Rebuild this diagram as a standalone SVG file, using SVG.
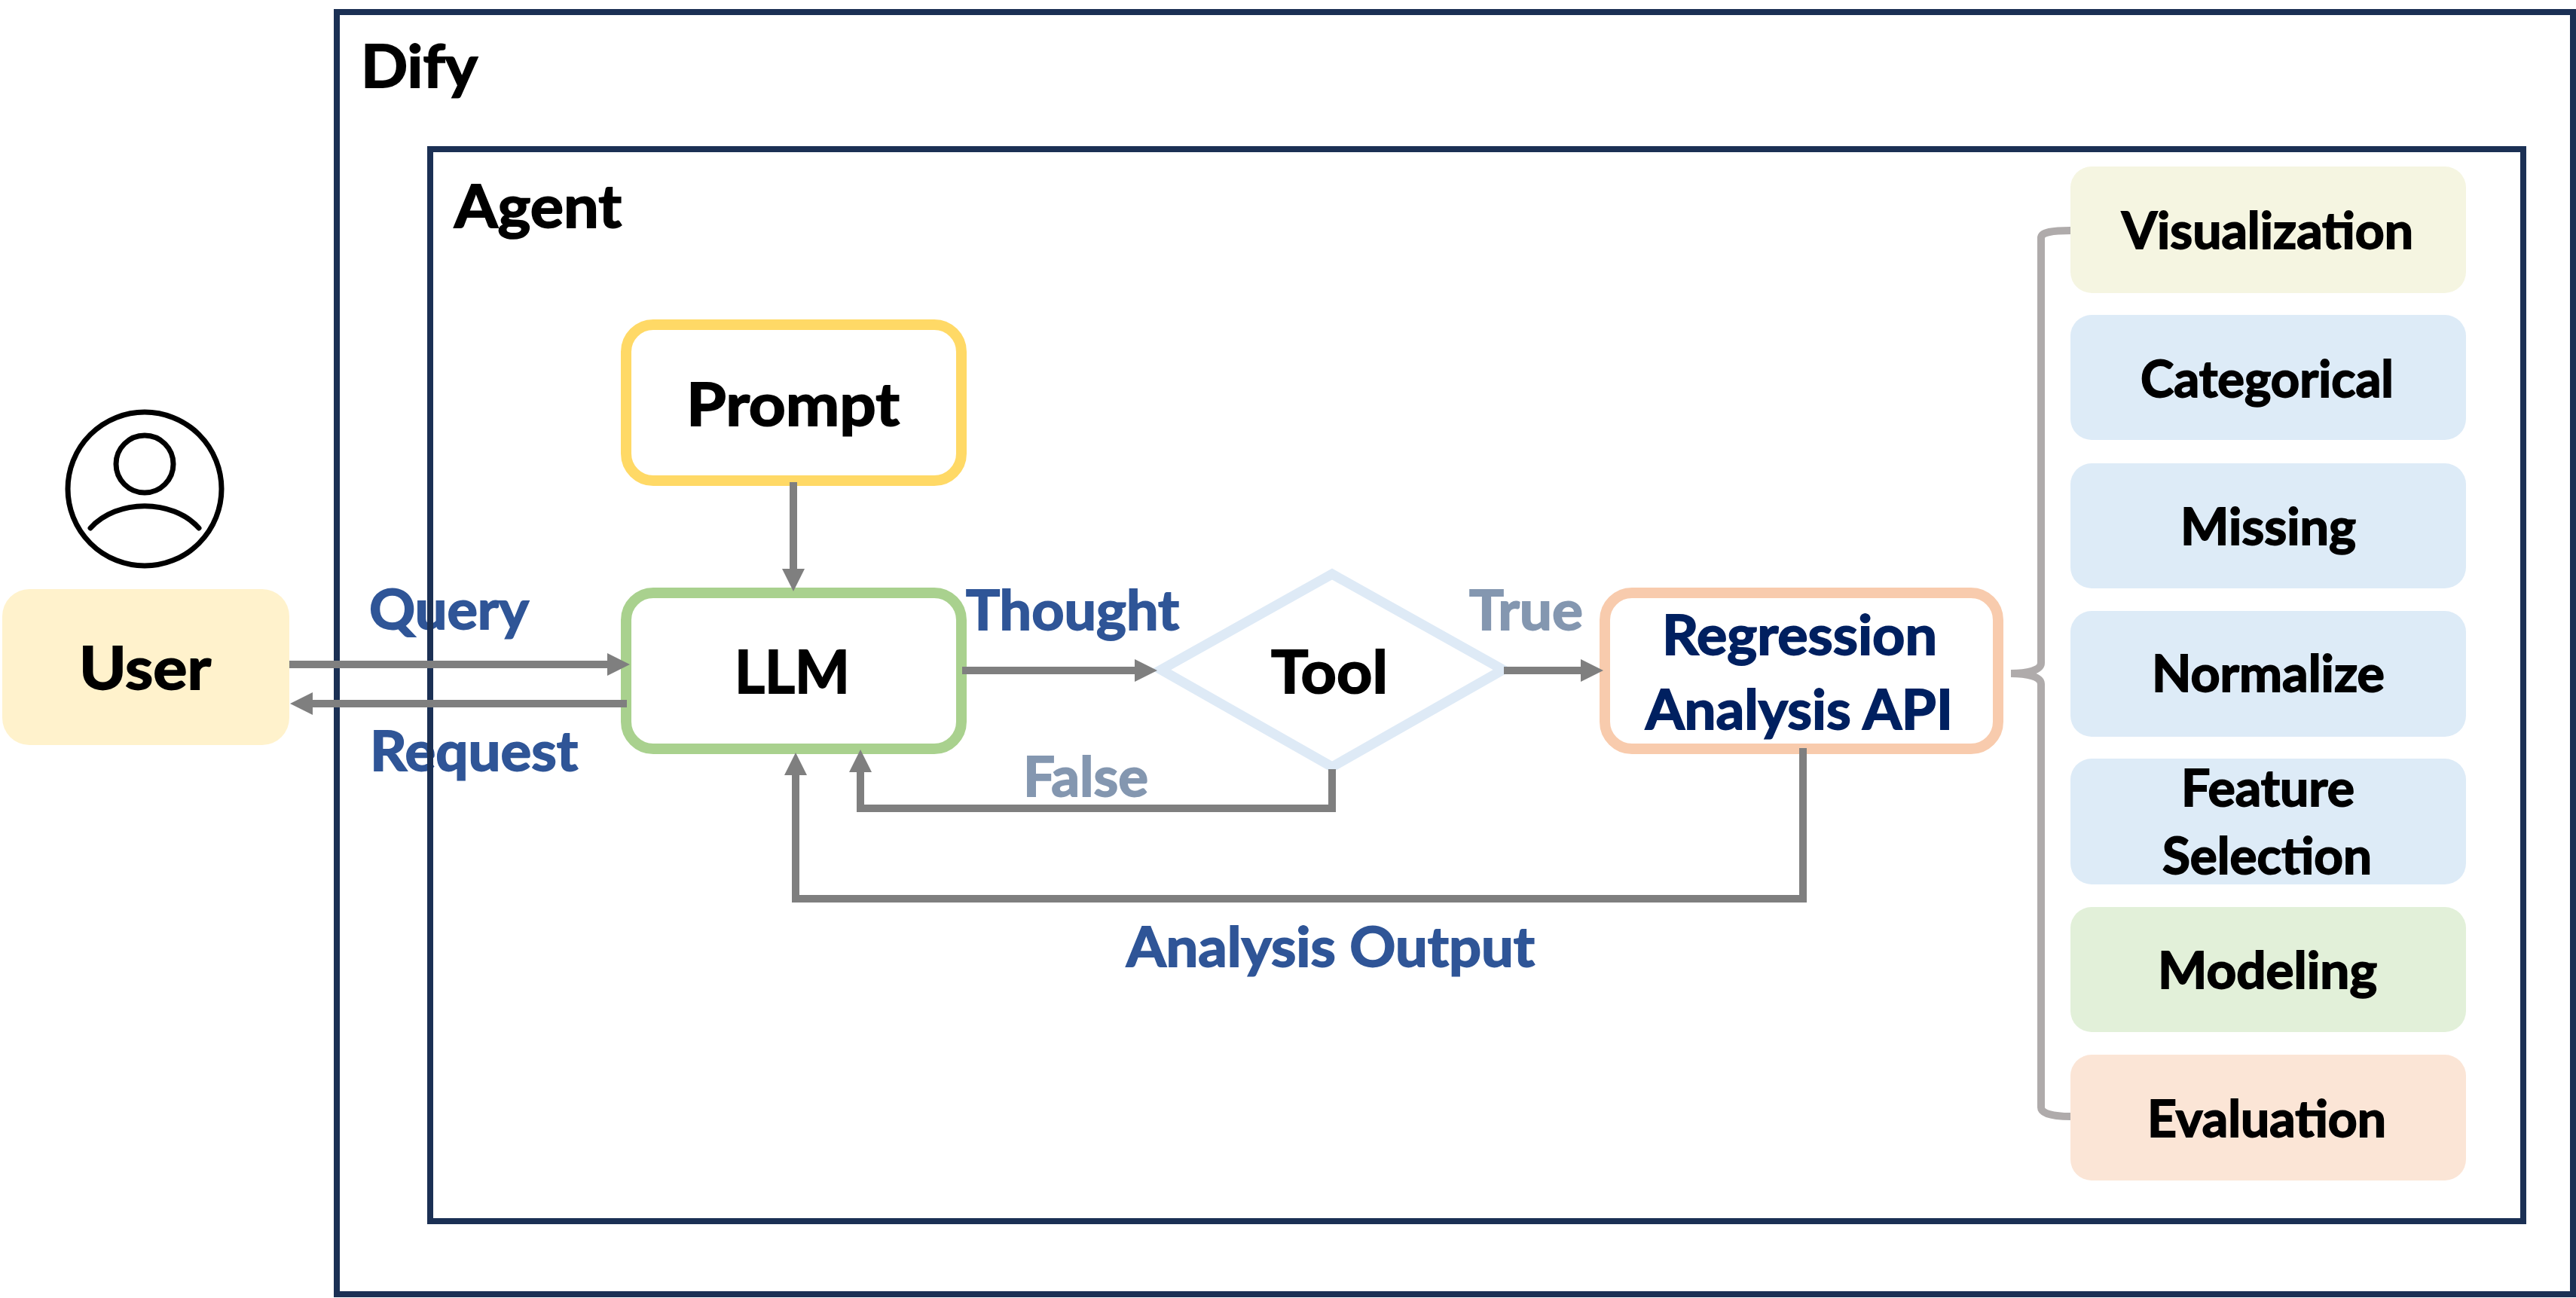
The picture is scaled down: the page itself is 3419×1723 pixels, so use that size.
<svg xmlns="http://www.w3.org/2000/svg" width="3419" height="1723" viewBox="0 0 3419 1723">
<style>
text{font-family:"Lato","Carlito","Liberation Sans",sans-serif;font-weight:700;fill:#000;stroke:#000;stroke-width:1.8px}
.t78{font-size:78px}.t72{font-size:72px}.t66{font-size:66px}
.lab{fill:#2F5597;stroke:#2F5597}.cond{fill:#8497B0;stroke:#8497B0}.api{fill:#002060;stroke:#002060}
.frame{fill:none;stroke:#1B3054;stroke-width:8}
.node{fill:#fff;stroke-width:14}
.tag{stroke:none}
.conn{fill:none;stroke:#7F7F7F;stroke-width:10}
.brace{fill:none;stroke:#AFABAB;stroke-width:10}
.icon{fill:none;stroke:#000;stroke-width:7;stroke-linecap:round}
</style>
<defs>
<marker id="head" markerUnits="userSpaceOnUse" markerWidth="32" markerHeight="32" refX="1" refY="15" orient="auto" viewBox="0 0 32 30"><path d="M0 0L30 15L0 30Z" fill="#7F7F7F"/></marker>
</defs>
<rect width="3419" height="1723" fill="#fff"/>
<g id="connector-labels">
<text class="t72 lab" x="490" y="835" textLength="212" lengthAdjust="spacingAndGlyphs">Query</text>
<text class="t72 lab" x="491" y="1023" textLength="276" lengthAdjust="spacingAndGlyphs">Request</text>
<text class="t72 lab" x="1282" y="836" textLength="283" lengthAdjust="spacingAndGlyphs">Thought</text>
<text class="t72 cond" x="1950" y="836" textLength="151" lengthAdjust="spacingAndGlyphs">True</text>
<text class="t72 cond" x="1358" y="1057" textLength="166" lengthAdjust="spacingAndGlyphs">False</text>
<text class="t72 lab" x="1495" y="1283" textLength="542" lengthAdjust="spacingAndGlyphs">Analysis Output</text>
</g>
<g id="dify">
<rect class="frame" x="447" y="16" width="2968" height="1702"/>
<text class="t78" x="479" y="116" textLength="155" lengthAdjust="spacingAndGlyphs">Dify</text>
</g>
<g id="agent">
<rect class="frame" x="571" y="198" width="2778" height="1423"/>
<text class="t78" x="603" y="302" textLength="222" lengthAdjust="spacingAndGlyphs">Agent</text>
</g>
<g id="user-icon">
<circle class="icon" cx="192" cy="649" r="102"/>
<circle class="icon" cx="192" cy="616" r="38"/>
<path class="icon" d="M120 701C155 662 229 662 264 701"/>
</g>
<g id="user">
<rect class="tag" x="3" y="782" width="381" height="207" rx="36" fill="#FFF2CC"/>
<text class="t78" x="105" y="915" textLength="175" lengthAdjust="spacingAndGlyphs">User</text>
</g>
<g id="prompt">
<rect class="node" x="831" y="431" width="445" height="207" rx="36" stroke="#FFD966"/>
<text class="t78" x="911" y="565" textLength="283" lengthAdjust="spacingAndGlyphs">Prompt</text>
</g>
<g id="llm">
<rect class="node" x="831" y="787" width="445" height="207" rx="36" stroke="#A9D18E"/>
<text class="t78" x="975" y="920" textLength="153" lengthAdjust="spacingAndGlyphs">LLM</text>
</g>
<g id="tool">
<path d="M1768 762L1995 889L1768 1018L1541 889Z" fill="#fff" stroke="#DEEAF6" stroke-width="13"/>
<text class="t78" x="1687" y="920" textLength="155" lengthAdjust="spacingAndGlyphs">Tool</text>
</g>
<g id="api">
<rect class="node" x="2130" y="787" width="522" height="207" rx="36" stroke="#F8CBAD"/>
<text class="t72 api" x="2206" y="869" textLength="365" lengthAdjust="spacingAndGlyphs">Regression</text>
<text class="t72 api" x="2184" y="968" textLength="408" lengthAdjust="spacingAndGlyphs">Analysis API</text>
</g>
<g id="visualization">
<rect class="tag" x="2748" y="221" width="525" height="168" rx="28" fill="#F5F5E1"/>
<text class="t66" x="2816" y="330" textLength="387" lengthAdjust="spacingAndGlyphs">Visualization</text>
</g>
<g id="categorical">
<rect class="tag" x="2748" y="418" width="525" height="166" rx="28" fill="#DDEBF7"/>
<text class="t66" x="2841" y="527" textLength="336" lengthAdjust="spacingAndGlyphs">Categorical</text>
</g>
<g id="missing">
<rect class="tag" x="2748" y="615" width="525" height="166" rx="28" fill="#DDEBF7"/>
<text class="t66" x="2894" y="723" textLength="233" lengthAdjust="spacingAndGlyphs">Missing</text>
</g>
<g id="normalize">
<rect class="tag" x="2748" y="811" width="525" height="167" rx="28" fill="#DDEBF7"/>
<text class="t66" x="2856" y="918" textLength="309" lengthAdjust="spacingAndGlyphs">Normalize</text>
</g>
<g id="feature-selection">
<rect class="tag" x="2748" y="1007" width="525" height="167" rx="28" fill="#DDEBF7"/>
<text class="t66" x="2895" y="1070" textLength="230" lengthAdjust="spacingAndGlyphs">Feature</text>
<text class="t66" x="2870" y="1160" textLength="278" lengthAdjust="spacingAndGlyphs">Selection</text>
</g>
<g id="modeling">
<rect class="tag" x="2748" y="1204" width="525" height="166" rx="28" fill="#E2F0D9"/>
<text class="t66" x="2864" y="1312" textLength="291" lengthAdjust="spacingAndGlyphs">Modeling</text>
</g>
<g id="evaluation">
<rect class="tag" x="2748" y="1400" width="525" height="167" rx="28" fill="#FBE5D6"/>
<text class="t66" x="2850" y="1509" textLength="317" lengthAdjust="spacingAndGlyphs">Evaluation</text>
</g>
<g id="connectors">
<path class="conn" d="M1053 640V756" marker-end="url(#head)"/>
<path class="conn" d="M384 882H807" marker-end="url(#head)"/>
<path class="conn" d="M832 934H414" marker-end="url(#head)"/>
<path class="conn" d="M1277 890H1507" marker-end="url(#head)"/>
<path class="conn" d="M1996 890H2099" marker-end="url(#head)"/>
<path class="conn" d="M1768 1021V1073H1142V1024" marker-end="url(#head)"/>
<path class="conn" d="M2393 993V1193H1056V1028" marker-end="url(#head)"/>
<path class="brace" d="M2748 306C2725 306 2709 308 2709 316V880C2709 890 2690 894 2669 894C2690 894 2709 898 2709 908V1470C2709 1478 2725 1482 2748 1482"/>
</g>
</svg>
